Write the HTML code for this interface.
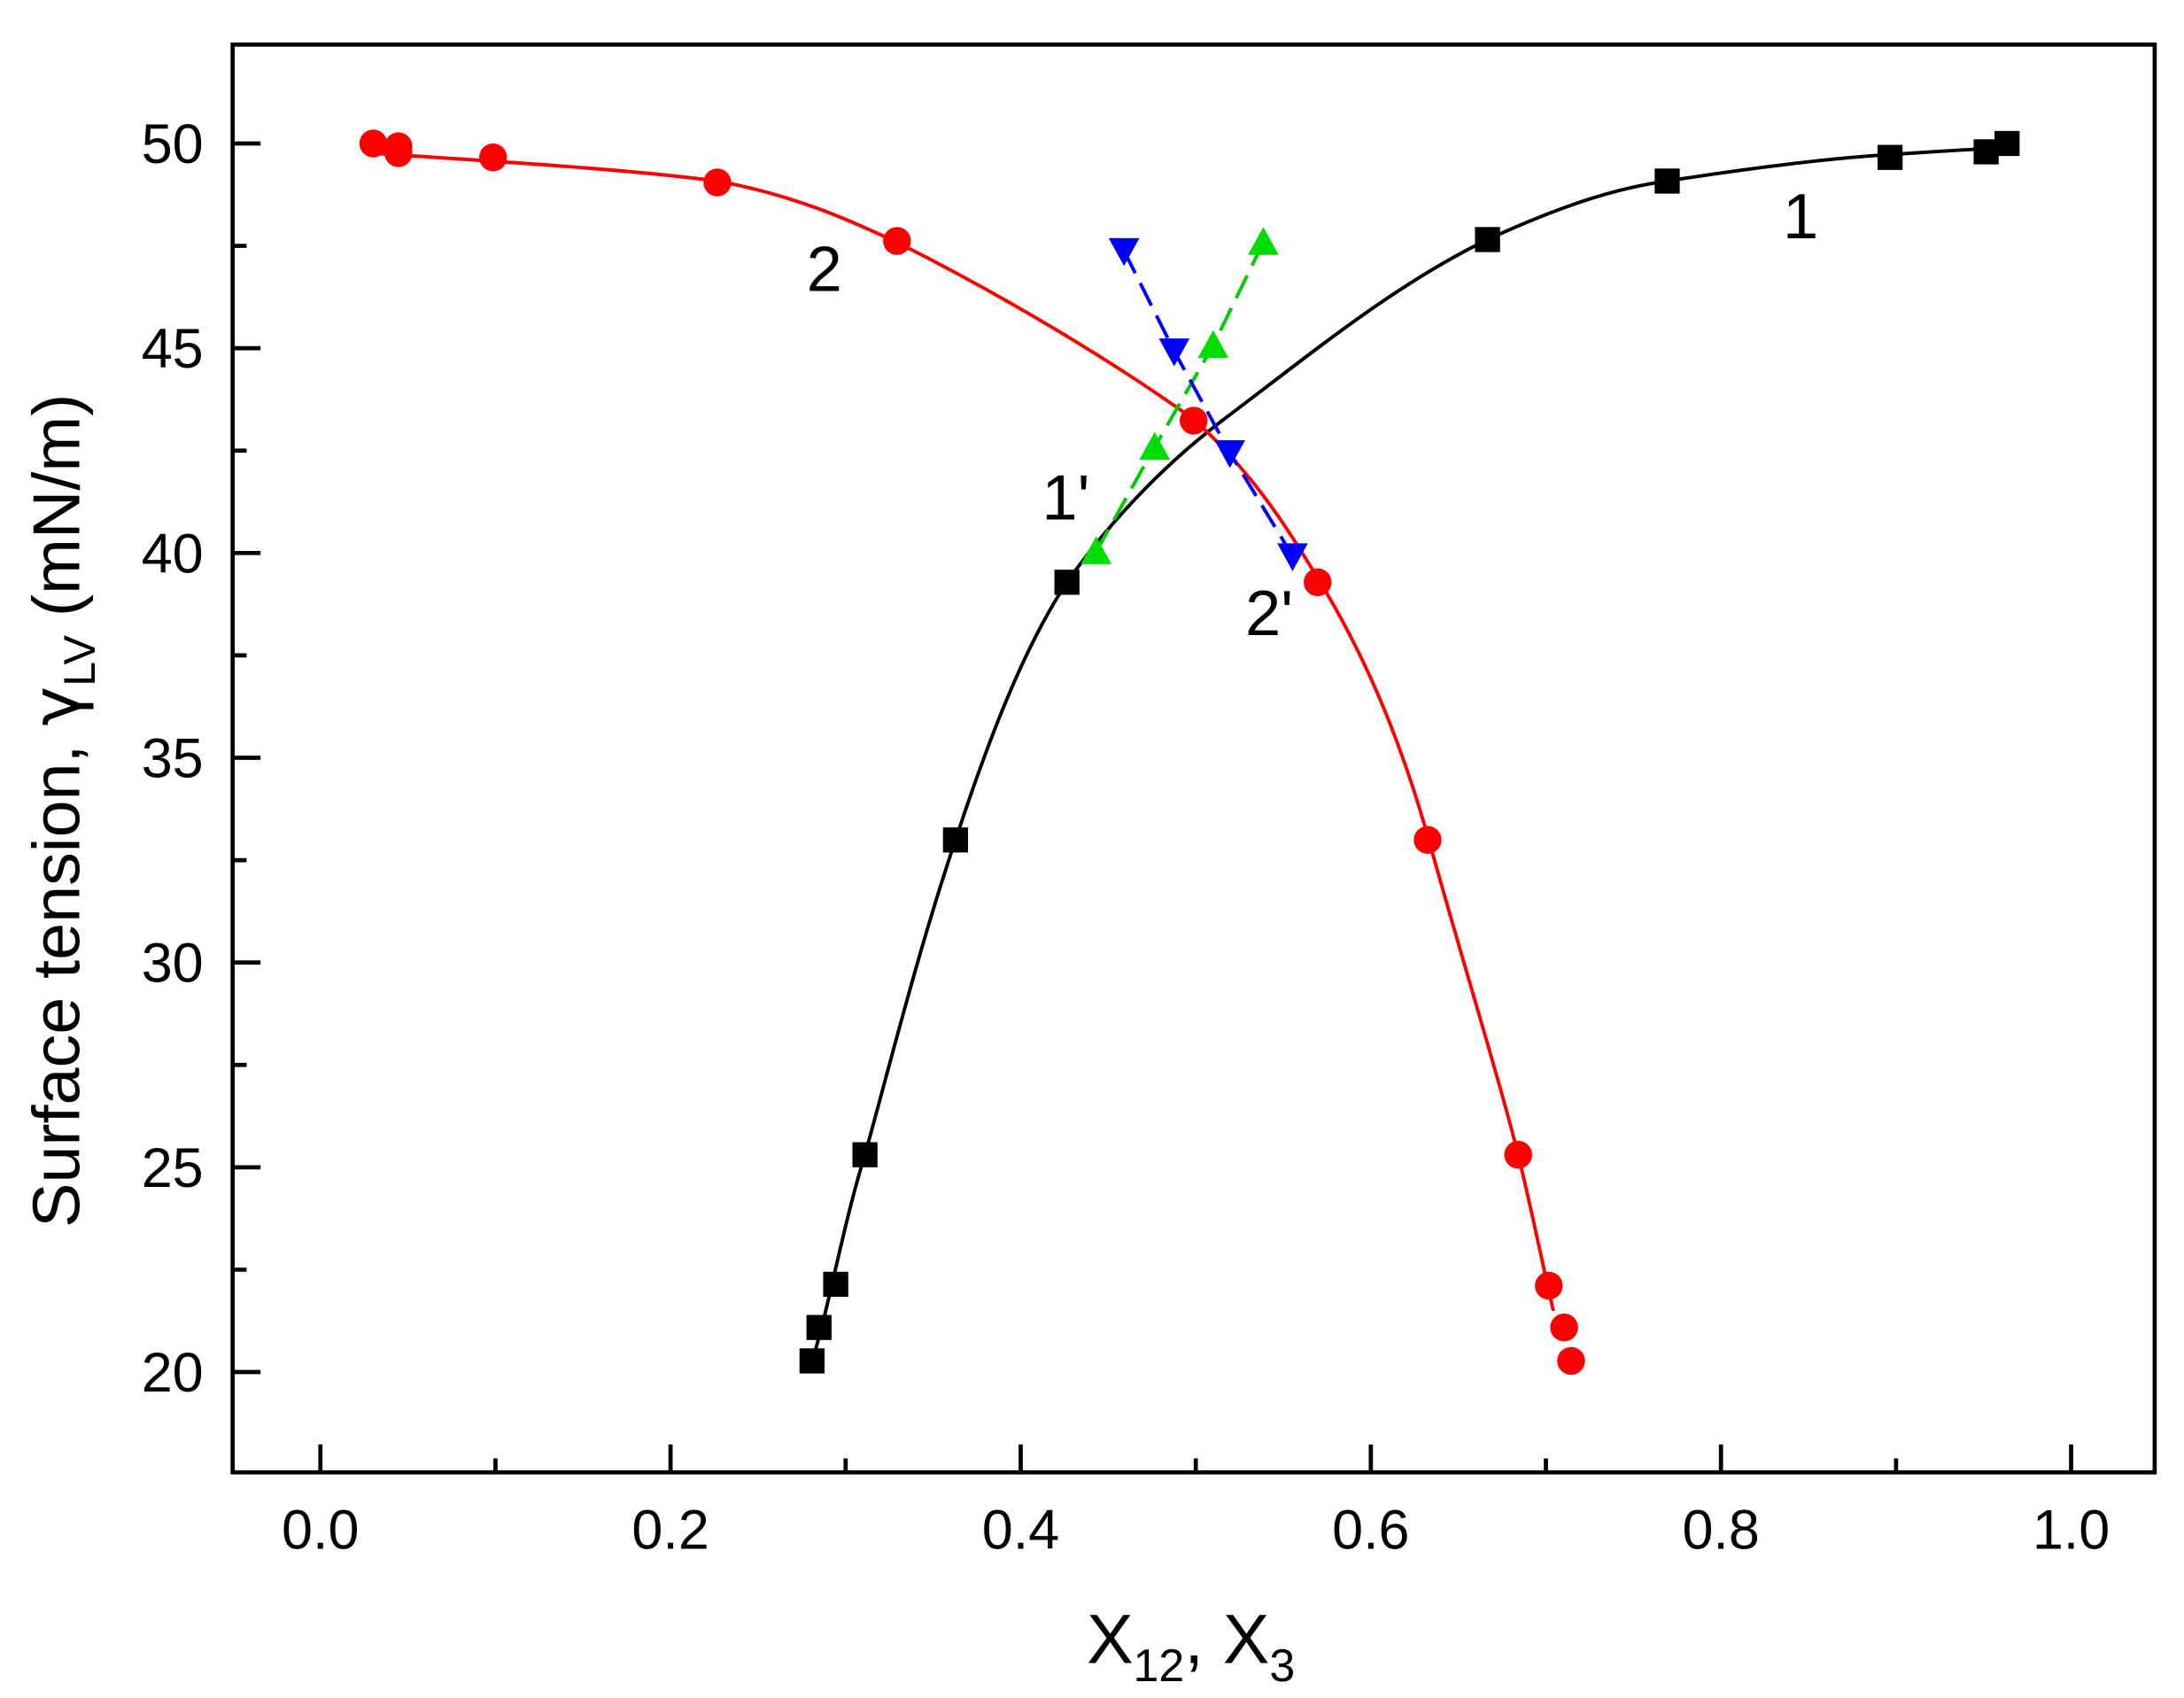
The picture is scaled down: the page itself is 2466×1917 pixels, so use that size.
<!DOCTYPE html>
<html><head><meta charset="utf-8"><style>html,body{margin:0;padding:0;background:#fff}svg{display:block}</style></head>
<body>
<svg width="2466" height="1917" viewBox="0 0 1568 1219" xmlns="http://www.w3.org/2000/svg" font-family="Liberation Sans, Arial, sans-serif">
<rect width="1568" height="1219" fill="#fff"/>
<g stroke="#000" stroke-width="3" fill="none">
<rect x="167" y="32" width="1380" height="1025"/>
<path d="M230 1057v-20M481.4 1057v-20M732.8 1057v-20M984.2 1057v-20M1235.6 1057v-20M1487 1057v-20"/>
<path d="M355.7 1057v-10M607.1 1057v-10M858.5 1057v-10M1109.9 1057v-10M1361.3 1057v-10"/>
<path d="M167 985h20M167 838h20M167 691h20M167 544h20M167 397h20M167 250h20M167 103h20"/>
<path d="M167 911.5h10M167 764.5h10M167 617.5h10M167 470.5h10M167 323.5h10M167 176.5h10"/>
</g>
<g font-size="40" fill="#000" text-anchor="end">
<text x="146" y="999">20</text><text x="146" y="852">25</text><text x="146" y="705">30</text><text x="146" y="558">35</text><text x="146" y="411">40</text><text x="146" y="264">45</text><text x="146" y="117">50</text>
</g>
<g font-size="40" fill="#000" text-anchor="middle">
<text x="230" y="1112">0.0</text><text x="481.4" y="1112">0.2</text><text x="732.8" y="1112">0.4</text><text x="984.2" y="1112">0.6</text><text x="1235.6" y="1112">0.8</text><text x="1487" y="1112">1.0</text>
</g>
<text x="855" y="1194" font-size="50" text-anchor="middle">X<tspan font-size="33" dy="13">12</tspan><tspan dy="-13">, X</tspan><tspan font-size="33" dy="13">3</tspan></text>
<text transform="translate(57,582) rotate(-90)" font-size="48" text-anchor="middle">Surface tension, <tspan font-family="DejaVu Sans, sans-serif">γ</tspan><tspan font-size="32" dy="11">LV</tspan><tspan dy="-11"> (mN/m)</tspan></text>
<g fill="none" stroke-width="2.5" stroke-linejoin="round" stroke-linecap="round">
<path stroke="#000" d="M583 977 C595 940 605 880 621 829 C640 760 660 680 686 603 C710 530 735 465 766 418 C800 370 840 330 880 300 C940 255 1000 205 1068 172 C1120 148 1160 135 1197 130 C1260 120 1320 113 1357 111 C1400 108 1420 107 1441 106"/>
<path stroke="#f00" d="M270 110 C320 114 440 120 515 130 C570 140 610 158 644 174 C720 212 800 260 857 301 C900 340 925 380 946 415 C980 470 1005 530 1025 600 C1050 690 1075 770 1090 829 C1100 870 1108 910 1115 940"/>
</g>
<polyline fill="none" stroke="#0c0" stroke-width="2.5" stroke-dasharray="18,8" points="787,396 829,321 871,248 907,174"/>
<polyline fill="none" stroke="#00f" stroke-width="2.5" stroke-dasharray="18,8" points="807,180 843,252 883,325 928,399"/>
<g fill="#000">
<rect x="574" y="968" width="18" height="18"/><rect x="579" y="944" width="18" height="18"/><rect x="591" y="913" width="18" height="18"/><rect x="612" y="820" width="18" height="18"/><rect x="677" y="594" width="18" height="18"/><rect x="757" y="409" width="18" height="18"/><rect x="1059" y="163" width="18" height="18"/><rect x="1188" y="121" width="18" height="18"/><rect x="1348" y="104" width="18" height="18"/><rect x="1417" y="100" width="18" height="18"/><rect x="1432" y="94" width="18" height="18"/>
</g>
<g fill="#f00">
<circle cx="268" cy="103" r="10"/><circle cx="286" cy="105" r="10"/><circle cx="286" cy="110" r="10"/><circle cx="354" cy="113" r="10"/><circle cx="515" cy="131" r="10"/><circle cx="644" cy="173" r="10"/><circle cx="857" cy="302" r="10"/><circle cx="946" cy="418" r="10"/><circle cx="1025" cy="603" r="10"/><circle cx="1090" cy="829" r="10"/><circle cx="1112" cy="923" r="10"/><circle cx="1123" cy="953" r="10"/><circle cx="1128" cy="977" r="10"/>
</g>
<g fill="#0d0">
<path d="M787 385l11 20h-22z"/><path d="M829 310l11 20h-22z"/><path d="M871 237l11 20h-22z"/><path d="M907 163l11 20h-22z"/>
</g>
<g fill="#00f">
<path d="M807 191l11 -20h-22z"/><path d="M843 263l11 -20h-22z"/><path d="M883 336l11 -20h-22z"/><path d="M928 410l11 -20h-22z"/>
</g>
<g font-size="46" fill="#000">
<text x="1280" y="171">1</text><text x="579" y="209">2</text><text x="748" y="373">1'</text><text x="894" y="456">2'</text>
</g>
</svg>
</body></html>
